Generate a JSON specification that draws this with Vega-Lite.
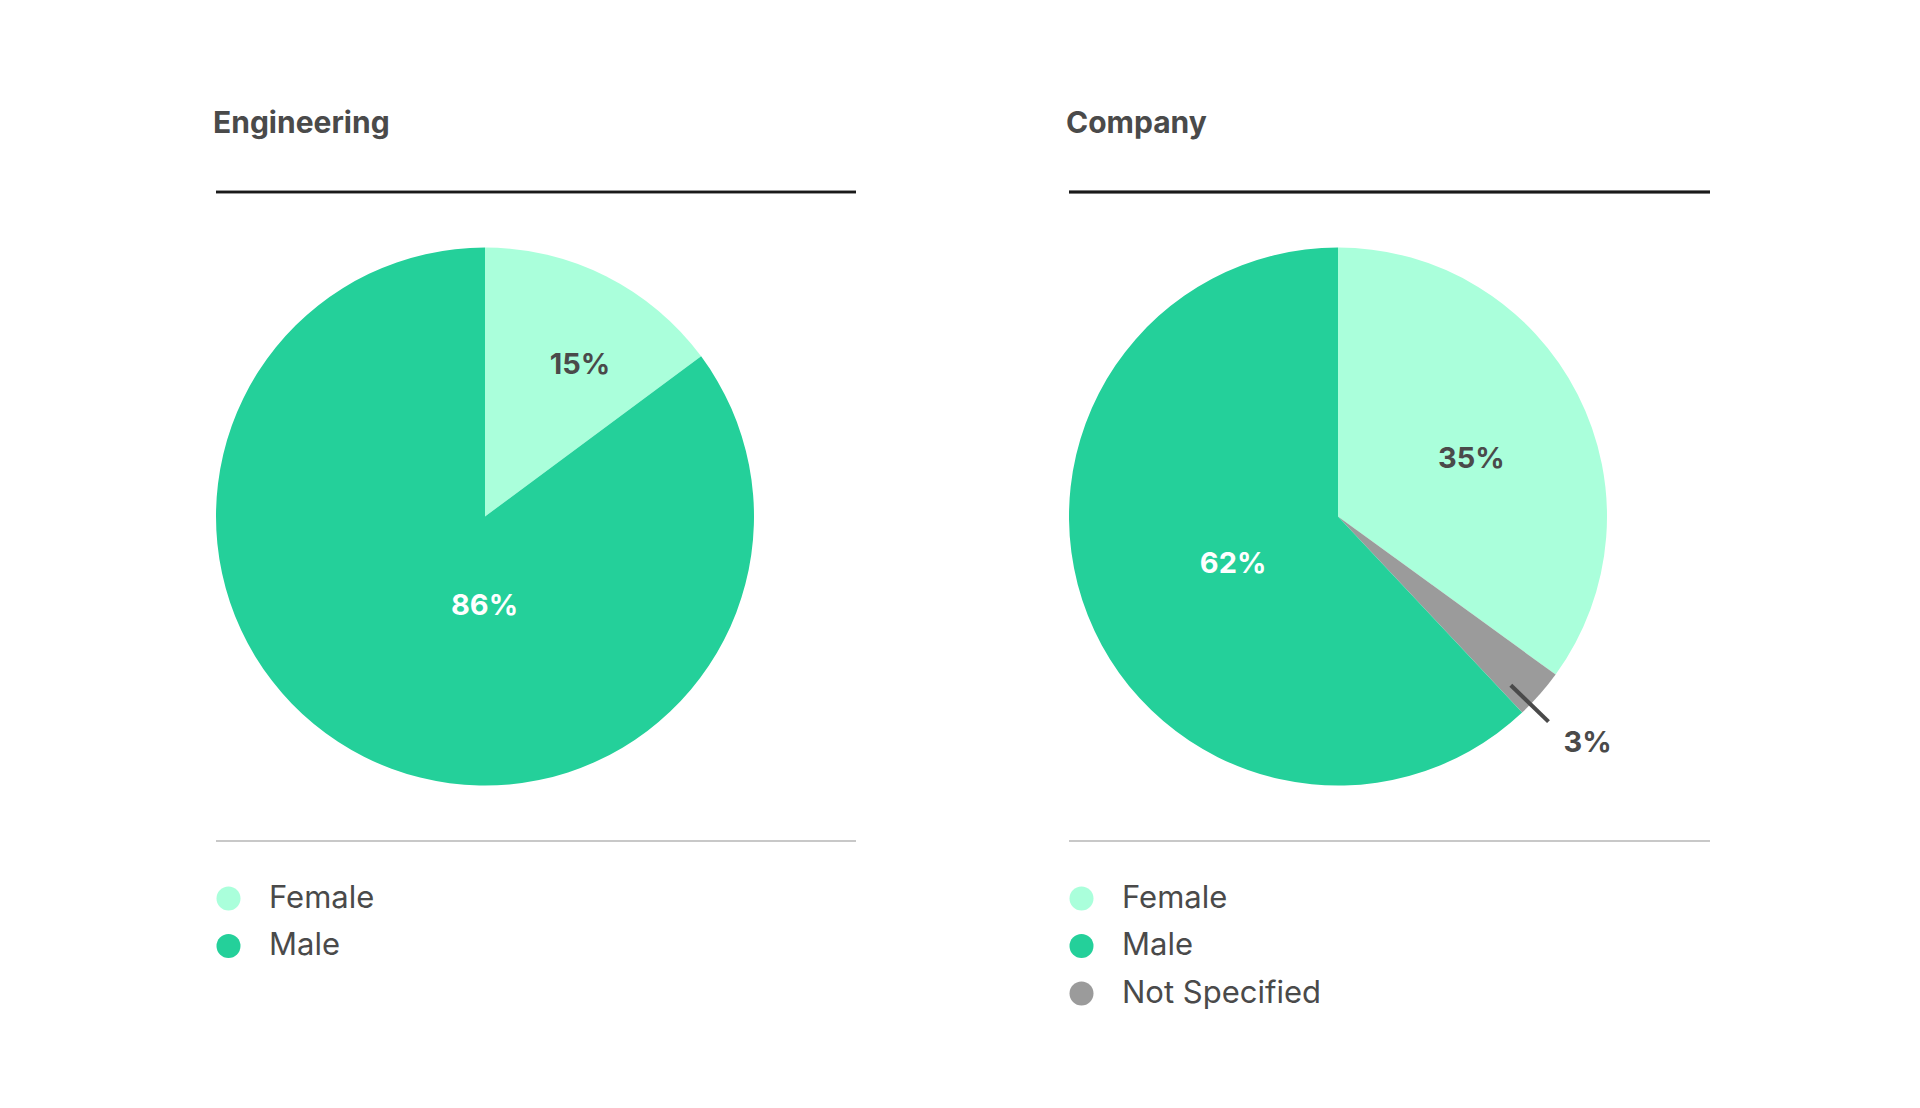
{
  "$schema": "https://vega.github.io/schema/vega-lite/v6.json",
  "background": "white",
  "autosize": {"type": "pad"},
  "padding": {"left": 213, "top": 108, "right": 0, "bottom": 0},
  "config": {
    "view": {"stroke": null},
    "font": "Inter",
    "title": {"anchor": "start", "fontSize": 30, "fontWeight": 700, "color": "#4a4a4a", "font": "Inter", "baseline": "alphabetic", "offset": 52},
    "legend": {"symbolType": "circle", "symbolSize": 576, "labelFontSize": 31, "labelFont": "Inter", "labelColor": "#4a4a4a", "labelLimit": 500, "rowPadding": 15.5, "labelOffset": 25, "padding": 0, "symbolStrokeWidth": 0, "symbolOpacity": 1}
  },
  "datasets": {
    "engineering": [
      {"group": "Female", "value": 15, "label": "15%", "order": 1},
      {"group": "Male", "value": 86, "label": "86%", "order": 2}
    ],
    "company": [
      {"group": "Female", "value": 35, "label": "35%", "order": 1},
      {"group": "Not Specified", "value": 3, "label": "3%", "order": 2},
      {"group": "Male", "value": 62, "label": "62%", "order": 3}
    ]
  },
  "spacing": 208,
  "resolve": {"scale": {"color": "independent", "theta": "independent"}, "legend": {"color": "independent"}},
  "hconcat": [
    {
      "title": "Engineering",
      "width": 640,
      "height": 649,
      "data": {"name": "engineering"},
      "transform": [
        {"stack": "value", "groupby": [], "sort": [{"field": "order"}], "as": ["v0", "v1"]},
        {"calculate": "(datum.v0 + datum.v1) / 2", "as": "mid"}
      ],
      "layer": [
        {
          "mark": {"type": "arc", "outerRadius": 269, "x": 269},
          "encoding": {
            "theta": {"field": "v0", "type": "quantitative", "scale": {"domain": [0, 101]}},
            "theta2": {"field": "v1"},
            "color": {
              "field": "group", "type": "nominal",
              "scale": {"domain": ["Female", "Male"], "range": ["#aaffdb", "#24d09a"]},
              "legend": {"title": null, "orient": "none", "legendX": -3, "legendY": 691}
            }
          }
        },
        {
          "transform": [{"filter": "datum.group === 'Female'"}],
          "mark": {"type": "text", "x": 269, "radius": 178, "dx": 15, "dy": 7, "fontSize": 29, "fontWeight": 700, "font": "Inter", "color": "#4a4a4a"},
          "encoding": {
            "theta": {"field": "mid", "type": "quantitative"},
            "text": {"field": "label"}
          }
        },
        {
          "transform": [{"filter": "datum.group === 'Male'"}],
          "mark": {"type": "text", "x": 269, "radius": 90, "dx": 40, "dy": 9, "fontSize": 29, "fontWeight": 700, "font": "Inter", "color": "#ffffff"},
          "encoding": {
            "theta": {"field": "mid", "type": "quantitative"},
            "text": {"field": "label"}
          }
        },
        {
          "mark": {"type": "rule", "color": "#1a1a1a", "strokeWidth": 2.5},
          "encoding": {"y": {"value": 0}}
        },
        {
          "mark": {"type": "rule", "color": "#c8c8c8", "strokeWidth": 2},
          "encoding": {"y": {"value": 649}}
        }
      ]
    },
    {
      "title": "Company",
      "width": 641,
      "height": 649,
      "data": {"name": "company"},
      "transform": [
        {"stack": "value", "groupby": [], "sort": [{"field": "order"}], "as": ["v0", "v1"]},
        {"calculate": "(datum.v0 + datum.v1) / 2", "as": "mid"}
      ],
      "layer": [
        {
          "mark": {"type": "arc", "outerRadius": 269, "x": 269},
          "encoding": {
            "theta": {"field": "v0", "type": "quantitative", "scale": {"domain": [0, 100]}},
            "theta2": {"field": "v1"},
            "color": {
              "field": "group", "type": "nominal",
              "scale": {"domain": ["Female", "Male", "Not Specified"], "range": ["#aaffdb", "#24d09a", "#9b9b9b"]},
              "legend": {"title": null, "orient": "none", "legendX": -3, "legendY": 691}
            }
          }
        },
        {
          "transform": [{"filter": "datum.group === 'Female'"}],
          "mark": {"type": "text", "x": 269, "radius": 144, "dx": 5, "dy": 8, "fontSize": 29, "fontWeight": 700, "font": "Inter", "color": "#4a4a4a"},
          "encoding": {
            "theta": {"field": "mid", "type": "quantitative"},
            "text": {"field": "label"}
          }
        },
        {
          "transform": [{"filter": "datum.group === 'Male'"}],
          "mark": {"type": "text", "x": 269, "radius": 115, "dx": 2, "dy": 5, "fontSize": 29, "fontWeight": 700, "font": "Inter", "color": "#ffffff"},
          "encoding": {
            "theta": {"field": "mid", "type": "quantitative"},
            "text": {"field": "label"}
          }
        },
        {
          "transform": [{"filter": "datum.group === 'Not Specified'"}],
          "mark": {"type": "text", "x": 269, "radius": 338, "dx": -4, "dy": 3, "fontSize": 29, "fontWeight": 700, "font": "Inter", "color": "#4a4a4a"},
          "encoding": {
            "theta": {"field": "mid", "type": "quantitative"},
            "text": {"field": "label"}
          }
        },
        {
          "transform": [{"filter": "datum.group === 'Not Specified'"}],
          "mark": {"type": "text", "x": 269, "radius": 279, "dx": -11, "dy": 13, "fontSize": 58, "font": "DejaVu Sans", "angle": 44, "color": "#4a4a4a", "text": "—"},
          "encoding": {
            "theta": {"field": "mid", "type": "quantitative"}
          }
        },
        {
          "mark": {"type": "rule", "color": "#1a1a1a", "strokeWidth": 2.5},
          "encoding": {"y": {"value": 0}}
        },
        {
          "mark": {"type": "rule", "color": "#c8c8c8", "strokeWidth": 2},
          "encoding": {"y": {"value": 649}}
        }
      ]
    }
  ]
}
